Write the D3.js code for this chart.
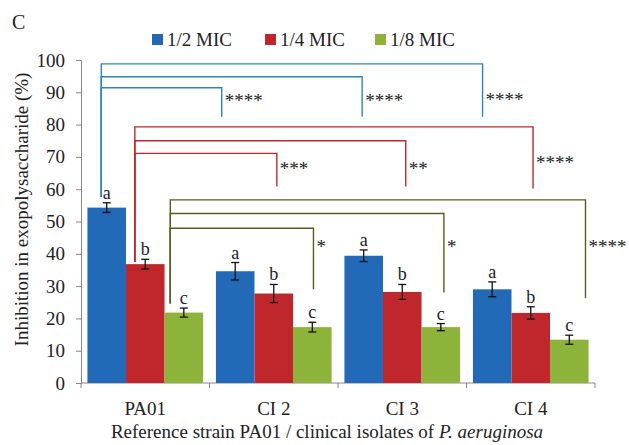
<!DOCTYPE html>
<html>
<head>
<meta charset="utf-8">
<script src="https://cdn.jsdelivr.net/npm/d3@7"></script>
<style>
  body { margin: 0; background: #fff; }
  #chart text { font-family: "Liberation Serif", "Tinos", "DejaVu Serif", serif !important; }
</style>
</head>
<body>
<svg id="chart" width="629" height="445"></svg>
<script>
// categories and series
var categories = ["PA01", "CI 2", "CI 3", "CI 4"]
var seriesNames = ["1/2 MIC", "1/4 MIC", "1/8 MIC"]
var seriesColors = ["#2269b8", "#c0272d", "#8db33a"]

// mean inhibition (%) per category, one list per series
var half = [54.3, 34.6, 39.4, 29.0]
var quarter = [36.8, 27.7, 28.2, 21.7]
var eighth = [21.8, 17.3, 17.3, 13.4]

// error bar half widths
var halfErr = [1.5, 2.7, 1.8, 2.3]
var quarterErr = [1.5, 2.8, 2.3, 1.9]
var eighthErr = [1.4, 1.5, 1.1, 1.4]

var letters = ["a", "b", "c"]
var yTicks = [0, 10, 20, 30, 40, 50, 60, 70, 80, 90, 100]

// significance brackets: from series s in PA01 to the same series in category c
// level = height of horizontal line, drop = where the right leg ends, base = where left leg ends
var bracketColors = ["#2b86b4", "#c0272d", "#5b5b20"]
var bracketSeries = [0, 0, 0, 1, 1, 1, 2, 2, 2]
var bracketTarget = [1, 2, 3, 1, 2, 3, 1, 2, 3]
var bracketLevel = [91.4, 94.8, 98.8, 71.1, 75.0, 79.3, 47.9, 52.5, 56.7]
var bracketDrop = [82.4, 82.4, 82.4, 60.8, 60.8, 60.2, 29.0, 28.0, 26.2]
var bracketBase = [57.6, 57.6, 57.6, 37.5, 37.5, 37.5, 24.6, 24.6, 24.6]
var bracketStars = ["****", "****", "****", "***", "**", "****", "*", "*", "****"]
var bracketStarY = [88.5, 88.5, 89.0, 67.6, 67.6, 69.2, 43.2, 43.2, 43.2]
// where the legs sit inside a bar (fraction of bar width)
var legStart = [0.36, 0.23, 0.15]
var legEnd = [0.15, 0.46, 0.25, 0.58, 0.59, 0.56, 0.53, 0.58, 0.92]

var values = [half, quarter, eighth]
var errors = [halfErr, quarterErr, eighthErr]

var svg = d3.select("#chart")
var mLeft = 81, mRight = 595, mTop = 60, mBottom = 383

var x0 = d3.scaleBand().domain(categories).range([mLeft, mRight]).paddingInner(0.1).paddingOuter(0.05)
var x1 = d3.scaleBand().domain(d3.range(seriesNames.length)).range([0, x0.bandwidth()])
var y = d3.scaleLinear().domain([0, 100]).range([mBottom, mTop])

function txt(sel, size) {
  return sel.style("font-size", size + "px").attr("fill", "#222")
}

// "C" panel letter
txt(svg.append("text").attr("x", 12).attr("y", 29), 20).text("C")

// legend
var legendX = [152, 265, 375]
seriesNames.forEach(function (name, i) {
  svg.append("rect").attr("x", legendX[i]).attr("y", 34).attr("width", 11).attr("height", 11)
    .attr("fill", seriesColors[i])
  txt(svg.append("text").attr("x", legendX[i] + 15).attr("y", 46), 19).text(name)
})

// y axis
var yAxis = svg.append("g").attr("transform", "translate(" + mLeft + ",0)")
  .call(d3.axisLeft(y).tickValues(yTicks).tickSize(5).tickPadding(11))
txt(yAxis.selectAll("text"), 19)
yAxis.selectAll("line, path").attr("stroke", "#888")

// x axis with ticks at group boundaries
svg.append("line").attr("x1", mLeft).attr("x2", mRight).attr("y1", mBottom).attr("y2", mBottom).attr("stroke", "#888")
var bounds = [mLeft].concat(categories.map(function (c) { return x0(c) + x0.bandwidth() + x0.step() * x0.paddingInner() / 2 }))
bounds[bounds.length - 1] = mRight
svg.selectAll(".xtick").data(bounds).enter().append("line")
  .attr("x1", function (d) { return d }).attr("x2", function (d) { return d })
  .attr("y1", mBottom).attr("y2", mBottom + 5).attr("stroke", "#888")
txt(svg.selectAll(".xlab").data(categories).enter().append("text")
  .attr("x", function (d) { return x0(d) + x0.bandwidth() / 2 })
  .attr("y", 415).attr("text-anchor", "middle"), 19)
  .text(function (d) { return d })

// axis titles
var xt = txt(svg.append("text").attr("x", 327).attr("y", 438).attr("text-anchor", "middle"), 19)
xt.append("tspan").text("Reference strain PA01 / clinical isolates of ")
xt.append("tspan").style("font-style", "italic").text("P. aeruginosa")
txt(svg.append("text").attr("transform", "translate(28," + ((mTop + mBottom) / 2 - 12) + ")rotate(-90)")
  .attr("text-anchor", "middle"), 19)
  .text("Inhibition in exopolysaccharide (%)")

// bars
var rows = []
categories.forEach(function (c, ci) {
  values.forEach(function (v, si) {
    rows.push({ cat: c, s: si, v: v[ci], e: errors[si][ci] })
  })
})
var bx = function (d) { return x0(d.cat) + x1(d.s) }

svg.append("g").selectAll("rect").data(rows).enter().append("rect")
  .attr("x", bx).attr("width", x1.bandwidth())
  .attr("y", function (d) { return y(d.v) })
  .attr("height", function (d) { return y(0) - y(d.v) })
  .attr("fill", function (d) { return seriesColors[d.s] })

// error bars
var eb = svg.append("g").attr("stroke", "#111").attr("stroke-width", 1.3)
rows.forEach(function (d) {
  var cx = bx(d) + x1.bandwidth() / 2
  eb.append("line").attr("x1", cx).attr("x2", cx).attr("y1", y(d.v + d.e)).attr("y2", y(d.v - d.e))
  eb.append("line").attr("x1", cx - 4).attr("x2", cx + 4).attr("y1", y(d.v + d.e)).attr("y2", y(d.v + d.e))
  eb.append("line").attr("x1", cx - 4).attr("x2", cx + 4).attr("y1", y(d.v - d.e)).attr("y2", y(d.v - d.e))
})

// letters above error bars
txt(svg.append("g").selectAll("text").data(rows).enter().append("text")
  .attr("x", function (d) { return bx(d) + x1.bandwidth() / 2 })
  .attr("y", function (d) { return y(d.v + d.e) - 4 })
  .attr("text-anchor", "middle"), 18)
  .text(function (d) { return letters[d.s] })

// significance brackets
bracketSeries.forEach(function (s, i) {
  var xa = x0(categories[0]) + x1(s) + legStart[s] * x1.bandwidth()
  var xb = x0(categories[bracketTarget[i]]) + x1(s) + legEnd[i] * x1.bandwidth()
  var pts = [[xa, y(bracketBase[i])], [xa, y(bracketLevel[i])], [xb, y(bracketLevel[i])], [xb, y(bracketDrop[i])]]
  svg.append("path").attr("d", d3.line()(pts)).attr("fill", "none")
    .attr("stroke", bracketColors[s]).attr("stroke-width", 1.4)
  txt(svg.append("text").attr("x", xb + 3).attr("y", y(bracketStarY[i]) + 10), 19).text(bracketStars[i])
})
</script>
</body>
</html>
